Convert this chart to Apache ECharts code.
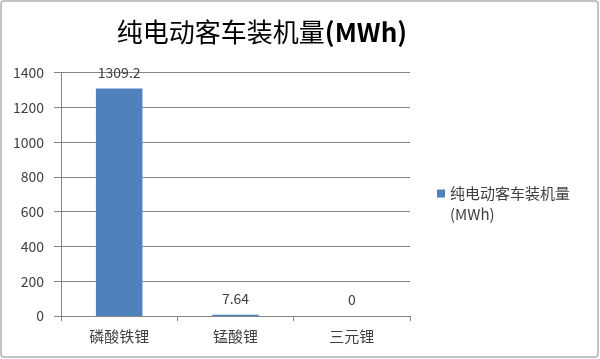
<!DOCTYPE html>
<html><head><meta charset="utf-8">
<script src="https://cdn.jsdelivr.net/npm/echarts@6/dist/echarts.min.js"></script>
<style>html,body{margin:0;padding:0;background:#fff}#c{width:600px;height:359px}</style>
</head><body><div id="c"></div>
<script>
const categories = ['磷酸铁锂', '锰酸锂', '三元锂'];
const values = [1309.2, 7.64, 0];
const valueLabels = ['1309.2', '7.64', '0'];
const yTicks = [0, 200, 400, 600, 800, 1000, 1200, 1400];
const seriesName = '纯电动客车装机量(MWh)';
const font = '"Noto Sans CJK SC", "Noto Sans", sans-serif';
const chart = echarts.init(document.getElementById('c'), null, {renderer: 'canvas'});
chart.setOption({
  animation: false,
  backgroundColor: '#fff',
  title: {
    text: '{a|纯电动客车装机量}{b|(MWh)}', left: 257, top: 14, textAlign: 'center',
    textStyle: {
      rich: {
        a: {fontFamily: font, fontSize: 26, fontWeight: 'normal', color: '#000'},
        b: {fontFamily: font, fontSize: 26, fontWeight: 'bold', color: '#000'}
      }
    }
  },
  graphic: [
    {type: 'rect', shape: {x: 1, y: 1, width: 597, height: 356, r: 3}, style: {fill: 'none', stroke: '#b0b0b0', lineWidth: 1.5}, silent: true},
    {type: 'text', left: 450, top: 207, style: {text: '(MWh)', font: '15px ' + font, fill: '#404040'}, silent: true}
  ],
  legend: {
    left: 437, top: 186, padding: 0, orient: 'vertical', itemWidth: 8, itemHeight: 8, itemGap: 4, icon: 'rect',
    data: [seriesName],
    formatter: () => '纯电动客车装机量',
    textStyle: {fontFamily: font, fontSize: 15, color: '#404040'}
  },
  grid: {left: 61, right: 190, top: 72.7, bottom: 43},
  xAxis: {
    type: 'category', data: categories,
    axisLine: {lineStyle: {color: '#868686'}},
    axisTick: {show: true, length: 5, lineStyle: {color: '#868686'}},
    axisLabel: {fontFamily: font, fontSize: 15, color: '#404040', margin: 13}
  },
  yAxis: {
    type: 'value', min: yTicks[0], max: yTicks[yTicks.length - 1], interval: 200,
    axisLine: {show: true, lineStyle: {color: '#868686'}},
    axisTick: {show: true, length: 7, lineStyle: {color: '#868686'}},
    splitLine: {lineStyle: {color: '#868686'}},
    axisLabel: {fontFamily: font, fontSize: 14, color: '#404040', margin: 17, formatter: v => String(v)}
  },
  series: [{
    name: seriesName, type: 'bar', data: values, barWidth: '40%',
    itemStyle: {color: '#4f81bd'},
    label: {show: true, position: 'top', distance: 9, fontFamily: font, fontSize: 14, color: '#404040',
      formatter: p => valueLabels[p.dataIndex]}
  }]
});
</script></body></html>
